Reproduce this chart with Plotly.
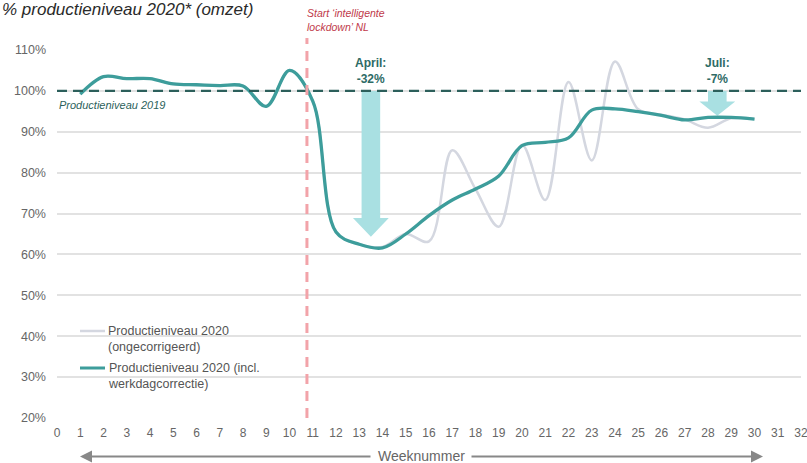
import plotly.graph_objects as go

# ---------------- data ----------------
weeks = list(range(1, 31))
prod_corrected = [99.2, 103.5, 103.0, 103.0, 101.7, 101.5, 101.3, 101.2, 96.2, 105.0,
                  97.5, 65.5, 62.5, 61.6, 65.0, 69.5, 73.3, 76.0, 79.2, 86.6,
                  87.4, 88.5, 95.3, 95.6, 94.9, 94.0, 92.9, 93.5, 93.5, 93.1]
prod_uncorrected = [99.2, 103.5, 103.0, 103.0, 101.7, 101.5, 101.3, 101.2, 96.2, 105.0,
                    97.5, 65.5, 62.5, 61.8, 65.0, 63.2, 85.5, 76.0, 66.8, 86.8,
                    73.3, 102.2, 83.0, 107.2, 95.5, 94.2, 93.0, 91.0, 93.3, 93.1]
baseline_2019 = 100
lockdown_week = 10.75
arrow_weeks = [13.5, 28.4]
arrow_tips = [64.3, 93.9]
arrow_labels = ["April:<br>-32%", "Juli:<br>-7%"]
y_ticks = [20, 30, 40, 50, 60, 70, 80, 90, 100, 110]
y_ticktext = [f"{v}%" for v in y_ticks]
x_ticks = list(range(0, 33))

name_unc = "Productieniveau 2020<br>(ongecorrigeerd)"
name_cor = "Productieniveau 2020 (incl.<br>werkdagcorrectie)"
title_text = "% productieniveau 2020* (omzet)"
lockdown_text = "Start ‘intelligente<br>lockdown’ NL"
baseline_text = "Productieniveau 2019"
xaxis_text = "Weeknummer"

# ---------------- layout geometry ----------------
W, H = 807, 463
ML, MR, MT, MB = 57, 6, 50, 45
PW, PH = W - ML - MR, H - MT - MB
XR = [0, 32]
YR = [20, 110]

def px_x(px):
    return (px - ML) / PW

def px_y(py):
    return (H - MB - py) / PH

FONT = "Liberation Sans, Arial, sans-serif"
TEAL = "#3d9d9b"
GREY = "#d4d7e0"
ARROW = "#a9e0e2"
DARK = "#2c5f5b"
LABEL = "#2e6b66"

fig = go.Figure()
fig.add_trace(go.Scatter(x=weeks, y=prod_uncorrected, mode="lines",
                         line=dict(color=GREY, width=2.5, shape="spline", smoothing=1.0),
                         showlegend=False, hoverinfo="skip"))
fig.add_trace(go.Scatter(x=weeks, y=prod_corrected, mode="lines",
                         line=dict(color=TEAL, width=3.3, shape="spline", smoothing=1.0),
                         showlegend=False, hoverinfo="skip"))

shapes = []
# legend background (breaks gridlines)
shapes.append(dict(type="rect", xref="paper", yref="paper",
                   x0=px_x(73), x1=px_x(263), y0=px_y(396), y1=px_y(322),
                   fillcolor="white", line=dict(width=0), layer="between"))
# arrows
head_len = [4.6, 3.5]
sw = 0.40   # shaft half width (weeks)
hw = 0.77   # head half width (weeks)
for xw, tip, hl in zip(arrow_weeks, arrow_tips, head_len):
    hs = tip + hl
    path = (f"M {xw-sw},{baseline_2019} L {xw+sw},{baseline_2019} L {xw+sw},{hs} "
            f"L {xw+hw},{hs} L {xw},{tip} L {xw-hw},{hs} L {xw-sw},{hs} Z")
    shapes.append(dict(type="path", xref="x", yref="y", path=path,
                       fillcolor=ARROW, line=dict(width=0), layer="between"))
# baseline 2019 dashed
shapes.append(dict(type="line", xref="x", yref="y", x0=0, x1=32,
                   y0=baseline_2019, y1=baseline_2019,
                   line=dict(color=DARK, width=2.2, dash="10px,6px"), layer="above"))
# lockdown line
lx = (lockdown_week - XR[0]) / (XR[1] - XR[0])
shapes.append(dict(type="line", xref="paper", yref="paper", x0=lx, x1=lx,
                   y0=px_y(418), y1=px_y(38),
                   line=dict(color="#f2a3a9", width=3, dash="10px,7px"), layer="above"))
# legend lines
shapes.append(dict(type="line", xref="paper", yref="paper", x0=px_x(80), x1=px_x(105),
                   y0=px_y(331), y1=px_y(331), line=dict(color=GREY, width=2.5)))
shapes.append(dict(type="line", xref="paper", yref="paper", x0=px_x(80), x1=px_x(105),
                   y0=px_y(368), y1=px_y(368), line=dict(color=TEAL, width=3)))

ann = []
ann.append(dict(text=title_text, xref="paper", yref="paper", x=px_x(0), y=px_y(-2),
                xanchor="left", yanchor="top", showarrow=False,
                font=dict(family=FONT, size=17, color="#2a2a2a", style="italic")))
ann.append(dict(text=lockdown_text, xref="paper", yref="paper", x=px_x(305), y=px_y(20),
                xanchor="left", yanchor="middle", align="left", showarrow=False,
                font=dict(family=FONT, size=10.5, color="#c03a4a", style="italic")))
ann.append(dict(text=baseline_text, xref="paper", yref="paper", x=px_x(57), y=px_y(105),
                xanchor="left", yanchor="middle", showarrow=False,
                font=dict(family=FONT, size=11, color=DARK, style="italic")))
for xw, lab in zip(arrow_weeks, arrow_labels):
    ann.append(dict(text=f"<b>{lab}</b>", xref="x", yref="paper", x=xw, y=px_y(70.5),
                    xanchor="center", yanchor="middle", align="center", showarrow=False,
                    font=dict(family=FONT, size=12, color=LABEL)))
ann.append(dict(text=name_unc, xref="paper", yref="paper", x=px_x(106), y=px_y(338.5),
                xanchor="left", yanchor="middle", align="left", showarrow=False,
                font=dict(family=FONT, size=12.5, color="#555555")))
ann.append(dict(text=name_cor, xref="paper", yref="paper", x=px_x(106), y=px_y(376),
                xanchor="left", yanchor="middle", align="left", showarrow=False,
                font=dict(family=FONT, size=12.5, color="#555555")))
# Weeknummer with double arrow
ann.append(dict(text=xaxis_text, xref="paper", yref="paper", x=px_x(421), y=px_y(456),
                xanchor="center", yanchor="middle", showarrow=False,
                font=dict(family=FONT, size=14, color="#666666")))
ann.append(dict(text="", xref="paper", yref="paper", x=px_x(80), y=px_y(456.5),
                ax=292, ay=0, showarrow=True, arrowhead=2, arrowsize=1.2,
                arrowwidth=2, arrowcolor="#888888"))
ann.append(dict(text="", xref="paper", yref="paper", x=px_x(763), y=px_y(456.5),
                ax=-293, ay=0, showarrow=True, arrowhead=2, arrowsize=1.2,
                arrowwidth=2, arrowcolor="#888888"))

fig.update_layout(
    width=W, height=H,
    margin=dict(l=ML, r=MR, t=MT, b=MB, pad=0, autoexpand=False),
    paper_bgcolor="white", plot_bgcolor="white",
    showlegend=False,
    font=dict(family=FONT, size=12, color="#666666"),
    xaxis=dict(range=XR, tickmode="array", tickvals=x_ticks, showgrid=False,
               zeroline=False, showline=False, ticks="", ticklabelstandoff=6,
               ticklabeloverflow="allow", automargin=False,
               tickfont=dict(size=12, color="#666666")),
    yaxis=dict(range=YR, tickmode="array", tickvals=y_ticks, ticktext=y_ticktext,
               showgrid=True, gridcolor="#e2e2e2", gridwidth=1.5,
               zeroline=False, showline=False, ticks="", ticklabelstandoff=10,
               automargin=False,
               tickfont=dict(size=12.5, color="#666666")),
    shapes=shapes, annotations=ann,
)

fig.write_html("out.html", config={"displayModeBar": False},
               post_script="document.body.style.margin='0';")
